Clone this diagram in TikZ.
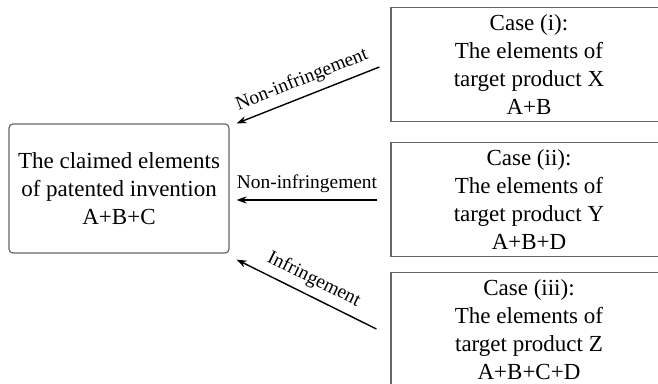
\documentclass[tikz,border=0pt]{standalone}
\usepackage{fontspec}
\setmainfont{Liberation Serif}
\usetikzlibrary{arrows.meta}

\tikzset{
    claimbox/.style={draw=black!60,rounded corners=2pt,line width=0.6pt,align=center,minimum width=110pt,minimum height=64.5pt,font=\fontsize{11.5}{14}\selectfont},
    casebox/.style={draw=black!60,line width=0.6pt,align=center,minimum width=138pt,minimum height=57pt,font=\fontsize{11.5}{14}\selectfont},
    verdict/.style={line width=0.7pt,-{Stealth[length=5pt,width=3.6pt]}},
    verdictlabel/.style={sloped,above,midway,font=\fontsize{9.7}{11}\selectfont}
}

\begin{document}
\begin{tikzpicture}[x=0.5pt,y=-0.5pt]
    \useasboundingbox (0,0) rectangle (658,384);

    % Claimed invention
    \node [claimbox] (claim) at (119,188.5) {The claimed elements\\of patented invention\\A+B+C};

    % Target products
    \node [casebox] (casei) at (529,64.5) {Case (i):\\The elements of\\target product X\\A+B};
    \node [casebox] (caseii) at (529,199.5) {Case (ii):\\The elements of\\target product Y\\A+B+D};
    \node [casebox] (caseiii) at (529,329.5) {Case (iii):\\The elements of\\target product Z\\A+B+C+D};

    % Comparisons
    \draw [verdict] ([shift={(-11,2.5)}]casei.west) -- ([shift={(7,0)}]claim.north east) node [verdictlabel] {Non-infringement};
    \draw [verdict] ([shift={(-13,0.5)}]caseii.west) -- ([shift={(7,11.5)}]claim.east) node [verdictlabel] {Non-infringement};
    \draw [verdict] ([shift={(-14,-0.5)}]caseiii.west) -- ([shift={(7,6)}]claim.south east) node [verdictlabel] {Infringement};

\end{tikzpicture}
\end{document}
